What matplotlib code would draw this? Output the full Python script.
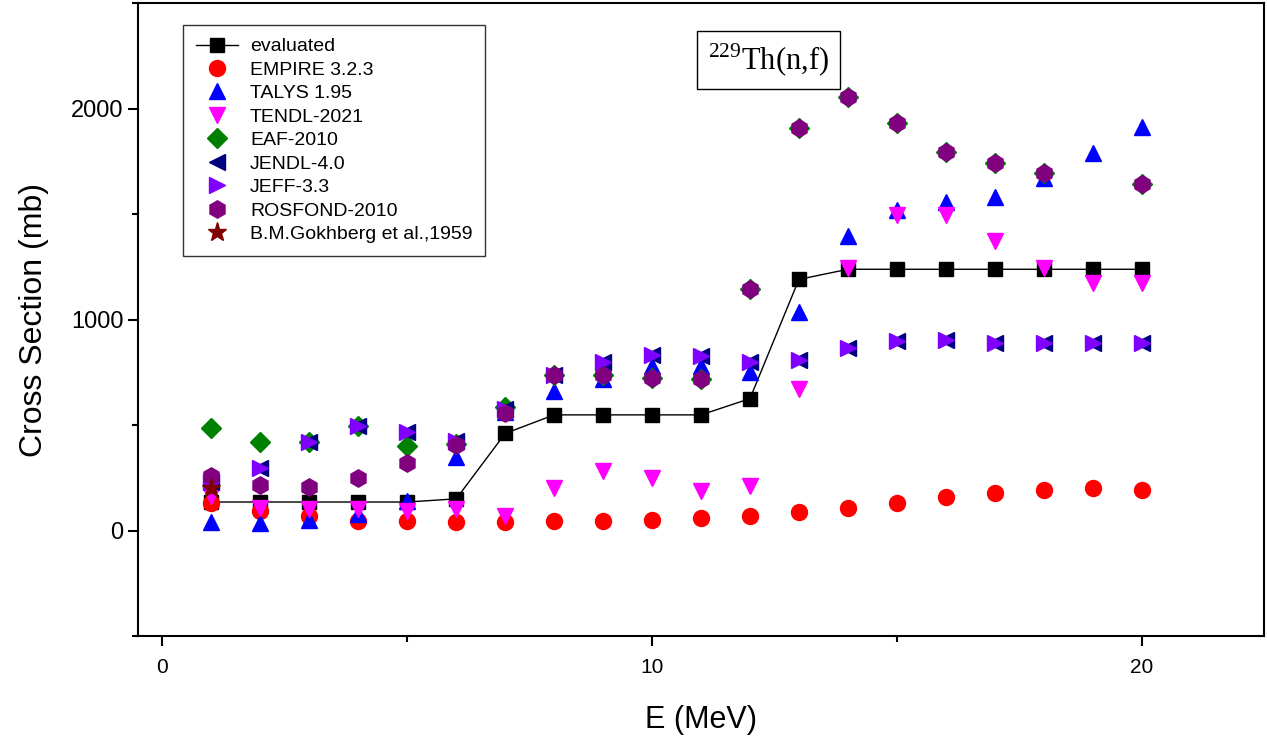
import matplotlib
matplotlib.use("Agg")
import matplotlib.pyplot as plt
from matplotlib.ticker import MultipleLocator

plt.rcParams['font.family'] = ['Liberation Sans', 'DejaVu Sans']
plt.rcParams['mathtext.fontset'] = 'custom'
plt.rcParams['mathtext.rm'] = 'Liberation Serif'

E = list(range(1, 21))
evaluated = [135, 135, 135, 135, 135, 150, 460, 548, 548, 548, 548, 625, 1190,
             1238, 1238, 1238, 1238, 1238, 1238, 1238]
empire = [130, 92, 68, 46, 44, 40, 39, 43, 45, 48, 57, 70, 87, 108, 132, 160,
          179, 192, 203, 192]
talys = [40, 36, 52, 76, 140, 346, 560, 663, 719, 779, 779, 751, 1037, 1398,
         1520, 1555, 1580, 1671, 1790, 1910]
tendl = [163, 108, 100, 100, 92, 100, 68, 203, 283, 251, 187, 211, 671, 1243,
         1497, 1494, 1373, 1243, 1171, 1171]
eaf_E = [1, 2, 3, 4, 5, 6, 7, 8, 9, 10, 11, 12, 13, 14, 15, 16, 17, 18, 20]
eaf = [484, 421, 419, 495, 401, 410, 586, 735, 735, 724, 719, 1146, 1906, 2056,
       1929, 1795, 1743, 1695, 1643]
jendl = [230, 294, 421, 497, 465, 425, 575, 735, 798, 833, 827, 798, 806, 865,
         897, 902, 889, 889, 889, 889]
jeff = [230, 294, 421, 497, 465, 425, 575, 735, 798, 833, 827, 798, 806, 865,
        897, 902, 889, 889, 889, 889]
rosfond_E = [1, 2, 3, 4, 5, 6, 7, 8, 9, 10, 11, 12, 13, 14, 15, 16, 17, 18, 20]
rosfond = [256, 214, 208, 248, 319, 405, 556, 735, 735, 724, 719, 1146, 1906,
           2056, 1929, 1795, 1743, 1695, 1643]
gokh_E = [1]
gokh = [203]

fig = plt.figure(figsize=(12.67, 7.38), dpi=100)
ax = fig.add_axes([138/1267, 1-636/738, (1264-138)/1267, (636-3)/738])

ax.plot(E, evaluated, color='black', lw=1, marker='s', ms=9.5, mfc='black',
        mec='black', label='evaluated', zorder=2)
ax.plot(E, empire, ls='none', marker='o', ms=11.5, color='#FF0000', label='EMPIRE 3.2.3', zorder=3)
ax.plot(E, talys, ls='none', marker='^', ms=12, color='#0000FF', label='TALYS 1.95', zorder=4)
ax.plot(E, tendl, ls='none', marker='v', ms=12, color='#FF00FF', label='TENDL-2021', zorder=5)
ax.plot(eaf_E, eaf, ls='none', marker='D', ms=10, color='#008000', label='EAF-2010', zorder=6)
ax.plot(E, jendl, ls='none', marker='<', ms=12, color='#000080', label='JENDL-4.0', zorder=7)
ax.plot(E, jeff, ls='none', marker='>', ms=12, color='#8000FF', label='JEFF-3.3', zorder=8)
ax.plot(rosfond_E, rosfond, ls='none', marker='h', ms=12.5, color='#800080', label='ROSFOND-2010', zorder=9)
ax.plot(gokh_E, gokh, ls='none', marker='*', ms=14, color='#800000',
        label='B.M.Gokhberg et al.,1959', zorder=10)

ax.set_xlim(-0.5, 22.5)
ax.set_ylim(-500, 2500)
ax.xaxis.set_major_locator(MultipleLocator(10))
ax.xaxis.set_minor_locator(MultipleLocator(5))
ax.yaxis.set_major_locator(MultipleLocator(1000))
ax.yaxis.set_minor_locator(MultipleLocator(500))
ax.tick_params(which='major', direction='out', length=7, width=1.5, labelsize=17)
ax.tick_params(which='minor', direction='out', length=4, width=1.5)
ax.tick_params(axis='x', labelsize=15, pad=9)
for s in ax.spines.values():
    s.set_linewidth(1.5)

ax.set_xlabel('E (MeV)', fontsize=22, labelpad=20)
ax.set_ylabel('Cross Section (mb)', fontsize=23, labelpad=16)

leg = ax.legend(loc='upper left', bbox_to_anchor=(0.04, 0.965), borderaxespad=0,
                fontsize=14, frameon=True, fancybox=False, edgecolor='black',
                labelspacing=0.3, handlelength=2.2, handletextpad=0.6,
                borderpad=0.65, numpoints=1)
leg.get_frame().set_linewidth(1.0)

ax.text(0.56, 0.91, r'$^{229}$Th(n,f)', transform=ax.transAxes,
        fontsize=22, ha='center', va='center', family='Liberation Serif',
        bbox=dict(boxstyle='square,pad=0.35', fc='white', ec='black', lw=1))

fig.savefig('out.png', dpi=100)
